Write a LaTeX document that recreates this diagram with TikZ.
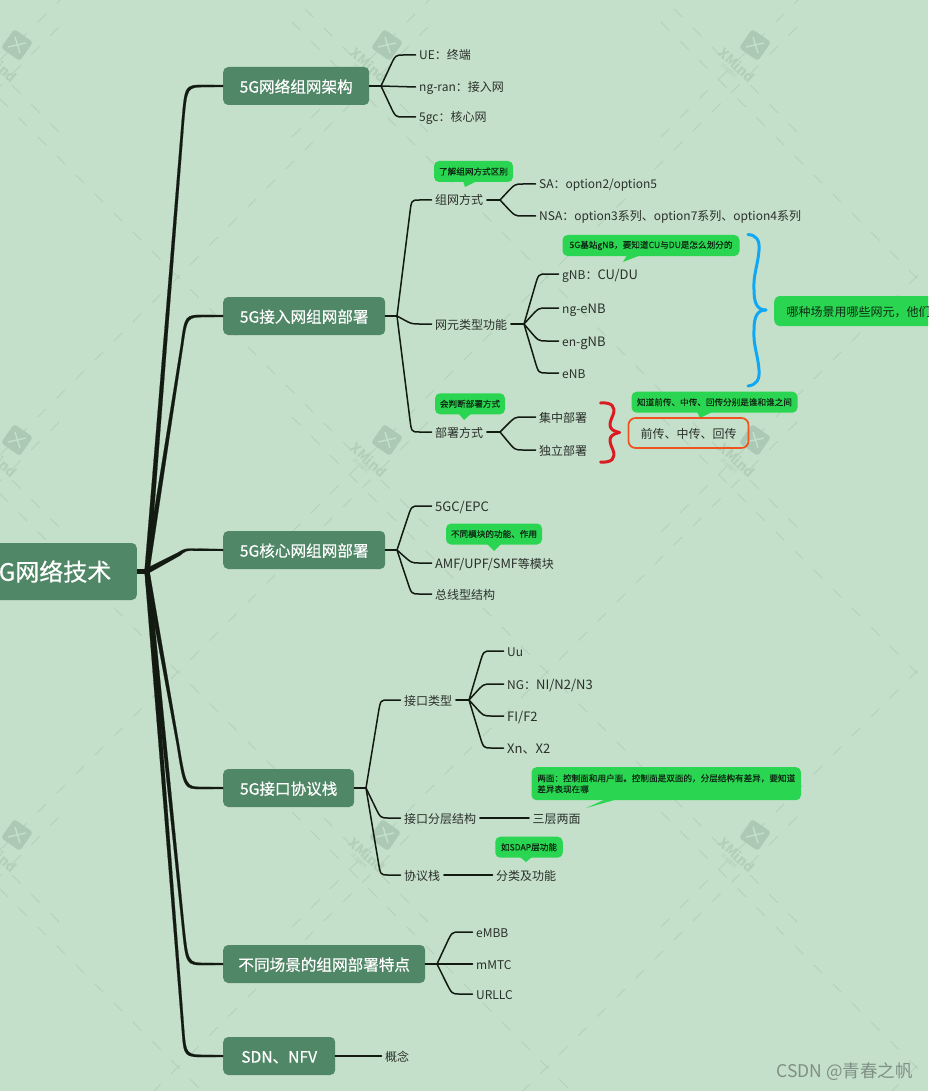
\documentclass[tikz,border=0pt]{standalone}
\usepackage{fontspec}
\setmainfont{Noto Sans CJK SC}
\newfontfamily\medfont[FakeBold=0.4]{Noto Sans CJK SC}
\newfontfamily\csdnfont{Noto Sans CJK SC}
\newcommand\wide[1]{{\fontsize{13}{14}\selectfont #1}}
\usetikzlibrary{calc}
\definecolor{bgc}{HTML}{C5E0CA}
\definecolor{nodec}{HTML}{508766}
\definecolor{inkc}{HTML}{121A12}
\definecolor{textc}{HTML}{2A302B}
\definecolor{notec}{HTML}{2AD651}
\definecolor{notetext}{HTML}{0E2A14}
\definecolor{dashc}{HTML}{B4D0BB}
\definecolor{logoc}{HTML}{ABC9B4}
\definecolor{wmc}{HTML}{B3CFBA}
\definecolor{bluec}{HTML}{10A8F5}
\definecolor{redc}{HTML}{DB1A22}
\definecolor{orangec}{HTML}{F0541E}
\definecolor{csdnc}{HTML}{7F8F85}
\tikzset{
  topic/.style={fill=nodec,rounded corners=5pt,text=white,font=\medfont\fontsize{15.6}{18}\selectfont,minimum height=38pt,inner xsep=0pt,inner ysep=0pt,anchor=west,text height=14.6pt,text depth=1.4pt},
  leaf/.style={font=\fontsize{12}{14}\selectfont,text=textc,anchor=west,inner xsep=3.5pt,inner ysep=0pt,text height=11pt,text depth=1pt},
  note/.style={fill=notec,rounded corners=5pt,text=notetext,font=\medfont\fontsize{8.6}{11}\selectfont,inner sep=0pt,minimum height=21pt,align=left},
  conn/.style={draw=inkc,line width=1.5pt,line cap=round,line join=round},
  bracestroke/.style={line width=3pt,line cap=round,line join=round},
}
\newcommand\bra[2]{%
  \coordinate (m) at ($(#1)!.42!(#2)$);
  \coordinate (c) at (m |- #2);
  \draw[conn] (#1) -- ($(c)!13pt!(#1)$) .. controls (c) .. ($(c)!8pt!(#2)$) -- (#2);
}
\newcommand\trunk[5]{%
  \draw[inkc,fill=inkc,line width=.2pt,line join=round]
    ($(J)+(-2.4,0)$) -- ($(#2)+(-1.2,0)$)
    .. controls ($(#3)+(-1.2,{-(#5)*1.2})$) .. ($(#4)+(0,{-(#5)*1.1})$)
    -- ($(#1.west)+(0,{-(#5)*.9})$) -- ($(#1.west)+(0,{(#5)*.9})$) -- ($(#4)+(0,{(#5)*1.1})$)
    .. controls ($(#3)+(1.2,{(#5)*1.2})$) .. ($(#2)+(1.2,0)$)
    -- ($(J)+(2.4,0)$) -- cycle;
}
\begin{document}
\begin{tikzpicture}[x=1pt,y=-1pt]
\useasboundingbox (0,0) rectangle (928,1091);
\clip (0,0) rectangle (928,1091);
\fill[bgc] (0,0) rectangle (928,1091);
% watermark grid
\foreach \i in {-1,0,1,2}{\foreach \j in {-1,0,1,2}{
  \coordinate (w) at ({178+369*\i},{277+395*\j});
  \draw[dashc,line width=.8pt,dash pattern=on 12pt off 15pt] ($(w)+(-255,-255)$) -- ($(w)+(255,255)$);
  \draw[dashc,line width=.8pt,dash pattern=on 12pt off 15pt] ($(w)+(-255,255)$) -- ($(w)+(255,-255)$);
}}
\foreach \lx/\ly in {17/45,387/45,755/45,17/440,387/440,755/440,17/835,385/835,755/835}{
  \node[fill=logoc,rounded corners=3pt,minimum size=23pt,inner sep=0pt,rotate=-35] at (\lx,\ly) {};
  \draw[bgc,line width=1.4pt] (\lx-9,\ly+2) -- (\lx+9,\ly-2);
  \draw[bgc,line width=1.4pt] (\lx-2,\ly-8) -- (\lx+3,\ly+8);
  \node[text=wmc,font=\bfseries\fontsize{13.5}{15}\selectfont,rotate=-42,inner sep=0pt] at (\lx-18,\ly+20) {XMind};
  \node[text=wmc,font=\fontsize{5}{6}\selectfont,rotate=-42,inner sep=0pt] at (\lx-26,\ly+26) {试用模式};
}
% root and topics
\node[fill=nodec,rounded corners=5pt,text=white,font=\medfont\fontsize{24}{28}\selectfont,anchor=east,minimum height=57pt,inner xsep=25.5pt,inner ysep=0pt] (root) at (137,571.5) {5G网络技术};
\node[topic,minimum width=146pt] (t1) at (223,86) {5G网络组网架构};
\node[topic,minimum width=162pt] (t2) at (223,316) {5G接入网组网部署};
\node[topic,minimum width=162pt] (t3) at (223,550) {5G核心网组网部署};
\node[topic,minimum width=131pt] (t4) at (223,788) {5G接口协议栈};
\node[topic,minimum width=202pt] (t5) at (223,964) {不同场景的组网部署特点};
\node[topic,minimum width=112pt] (t6) at (223,1056) {SDN、NFV};
% leaves
\node[leaf] (a1) at (415.5,55) {UE：终端};
\node[leaf] (a2) at (415.5,87) {ng-ran：接入网};
\node[leaf] (a3) at (415.5,117) {5gc：核心网};
\node[leaf] (b1) at (431.5,200) {组网方式};
\node[leaf] (b2) at (431.5,324) {网元类型功能};
\node[leaf] (b3) at (431.5,432) {部署方式};
\node[leaf] (c1) at (535.5,184) {SA：option2/option5};
\node[leaf] (c2) at (535.5,216) {NSA：option3系列、option7系列、option4系列};
\node[leaf] (d1) at (558.5,274) {gNB：\wide{CU/DU}};
\node[leaf] (d2) at (558.5,308) {ng-\wide{eNB}};
\node[leaf] (d3) at (558.5,341) {en-\wide{gNB}};
\node[leaf] (d4) at (558.5,373) {eNB};
\node[leaf] (e1) at (535.5,417) {集中部署};
\node[leaf] (e2) at (535.5,450) {独立部署};
\node[leaf] (f1) at (431.5,506) {\wide{5GC/EPC}};
\node[leaf] (f2) at (431.5,563) {{\fontsize{12.8}{14}\selectfont AMF/UPF/SMF}等模块};
\node[leaf] (f3) at (431.5,594) {总线型结构};
\node[leaf] (g1) at (400.5,700) {接口类型};
\node[leaf] (g2) at (400.5,818) {接口分层结构};
\node[leaf] (g3) at (400.5,875) {协议栈};
\node[leaf] (h1) at (503.5,651) {Uu};
\node[leaf] (h2) at (503.5,684) {NG：\wide{NI/N2/N3}};
\node[leaf] (h3) at (503.5,716) {\wide{FI/F2}};
\node[leaf] (h4) at (503.5,748) {\wide{Xn、X2}};
\node[leaf] (i1) at (529,818) {三层两面};
\node[leaf] (i2) at (492.5,875) {分类及功能};
\node[leaf] (k1) at (472.5,932) {eMBB};
\node[leaf] (k2) at (472.5,964) {mMTC};
\node[leaf] (k3) at (472.5,994) {URLLC};
\node[leaf] (l1) at (381.5,1056) {概念};
% notes
\fill[notec] (463,181) -- (465,187) -- (477,181) -- cycle;
\node[note,minimum width=79pt] (n1) at (473.5,171.5) {了解组网方式区别};
\fill[notec] (627,255) -- (623,262) -- (641,255) -- cycle;
\node[note,minimum width=177pt] (n2) at (651,245.5) {5G基站gNB，要知道CU与DU是怎么划分的};
\fill[notec] (697,412) -- (700,418) -- (712,412) -- cycle;
\node[note,minimum width=166pt] (n3) at (714.5,402.2) {知道前传、中传、回传分别是谁和谁之间};
\fill[notec] (458,413) -- (464,420) -- (472,413) -- cycle;
\node[note,minimum width=70pt] (n4) at (470,403.8) {会判断部署方式};
\fill[notec] (487,544) -- (494,551) -- (501,544) -- cycle;
\node[note,minimum width=96pt] (n5) at (494,534) {不同模块的功能、作用};
\fill[notec] (606,799) -- (586,808) -- (618,799) -- cycle;
\node[note,minimum width=269.5pt,minimum height=33pt,inner xsep=5.5pt,anchor=north west] (n6) at (531.3,767) {两面：控制面和用户面。控制面是双面的，分层结构有差异，要知道\\差异表现在哪};
\fill[notec] (520,857) -- (526,862) -- (532,857) -- cycle;
\node[note,minimum width=67.5pt] (n7) at (529,847.2) {如SDAP层功能};
% summary and boundary
\node[fill=notec,rounded corners=6pt,text=notetext,font=\fontsize{12}{14}\selectfont,anchor=west,minimum height=30pt,inner xsep=12.5pt,inner ysep=0pt,text height=11pt,text depth=1pt] (s1) at (774,311) {哪种场景用哪些网元，他们};
\node[draw=orangec,line width=1.7pt,rounded corners=7pt,font=\fontsize{12}{14}\selectfont,text=textc,minimum width=120pt,minimum height=30pt,inner sep=0pt,text height=11pt,text depth=1pt] (s2) at (688.5,433) {前传、中传、回传};
% trunks
\coordinate (J) at (147,571);
\draw[inkc,line width=5pt] (root.east |- J) -- (J);
\trunk{t1}{183,120}{186,86}{205,86}{1}
\trunk{t2}{182,345}{186,316}{205,316}{1}
\trunk{t4}{178,745}{185,788}{202,788}{-1}
\trunk{t5}{183,925}{187,964}{205,964}{-1}
\trunk{t6}{183,1030}{185,1056}{207,1056}{-1}
\draw[inkc,fill=inkc,line width=.2pt,line join=round] (146,568.5) -- (178,552.5) .. controls (185,548.5) .. (195,548.6) -- ($(t3.west)+(0,-.9)$) -- ($(t3.west)+(0,.9)$) -- (195,550.8) .. controls (186,550.5) .. (180,555.5) -- (148,573.5) -- cycle;
% branches
\coordinate (ja) at (381,86);
\coordinate (jb) at (397,316);
\coordinate (jc) at (500,200);
\coordinate (jd) at (524,324);
\coordinate (je) at (500,432);
\coordinate (jf) at (397,550);
\coordinate (jg) at (366,788);
\coordinate (jh) at (469,700);
\coordinate (jk) at (437,964);
\draw[conn] (t1.east) -- (ja);
\bra{ja}{a1.west}\draw[conn] (ja) -- (a2.west);\bra{ja}{a3.west}
\draw[conn] (t2.east) -- (jb);
\bra{jb}{b1.west}\bra{jb}{b2.west}\bra{jb}{b3.west}
\draw[conn] (b1.east) -- (jc);
\bra{jc}{c1.west}\bra{jc}{c2.west}
\draw[conn] (b2.east) -- (jd);
\bra{jd}{d1.west}\bra{jd}{d2.west}\bra{jd}{d3.west}\bra{jd}{d4.west}
\draw[conn] (b3.east) -- (je);
\bra{je}{e1.west}\bra{je}{e2.west}
\draw[conn] (t3.east) -- (jf);
\bra{jf}{f1.west}\bra{jf}{f2.west}\bra{jf}{f3.west}
\draw[conn] (t4.east) -- (jg);
\bra{jg}{g1.west}\bra{jg}{g2.west}\bra{jg}{g3.west}
\draw[conn] (g1.east) -- (jh);
\bra{jh}{h1.west}\bra{jh}{h2.west}\bra{jh}{h3.west}\bra{jh}{h4.west}
\draw[conn] (g2.east) -- (i1.west);
\draw[conn] (g3.east) -- (i2.west);
\draw[conn] (t5.east) -- (jk);
\bra{jk}{k1.west}\bra{jk}{k2.west}\bra{jk}{k3.west}
\draw[conn] (t6.east) -- (l1.west);
% braces
\coordinate (bt) at (748,234.5);
\coordinate (bb) at (748,386);
\coordinate (btip) at (766,310);
\draw[bluec,bracestroke] (bt) .. controls (756,235) and (760,240) .. (759,250) .. controls (758,265) and (753,275) .. (754,290) .. controls (754,303) and (757,310) .. (btip);
\draw[bluec,bracestroke] (bb) .. controls (756,385) and (760,380) .. (759,370) .. controls (758,355) and (753,345) .. (754,330) .. controls (754,317) and (757,310) .. (btip);
\coordinate (rt) at (600.5,403);
\coordinate (rb) at (600.5,462);
\coordinate (rtip) at (619.5,432.5);
\draw[redc,bracestroke] (rt) .. controls (612,402) and (616,407) .. (613,415) .. controls (610,422) and (606,430) .. (rtip);
\draw[redc,bracestroke] (rb) .. controls (612,463) and (616,458) .. (613,450) .. controls (610,443) and (606,435) .. (rtip);
% CSDN
\node[text=csdnc,font=\csdnfont\fontsize{17.5}{20}\selectfont,anchor=east,inner sep=0pt] (csdn) at (913,1072) {CSDN @青春之帆};
\end{tikzpicture}
\end{document}
